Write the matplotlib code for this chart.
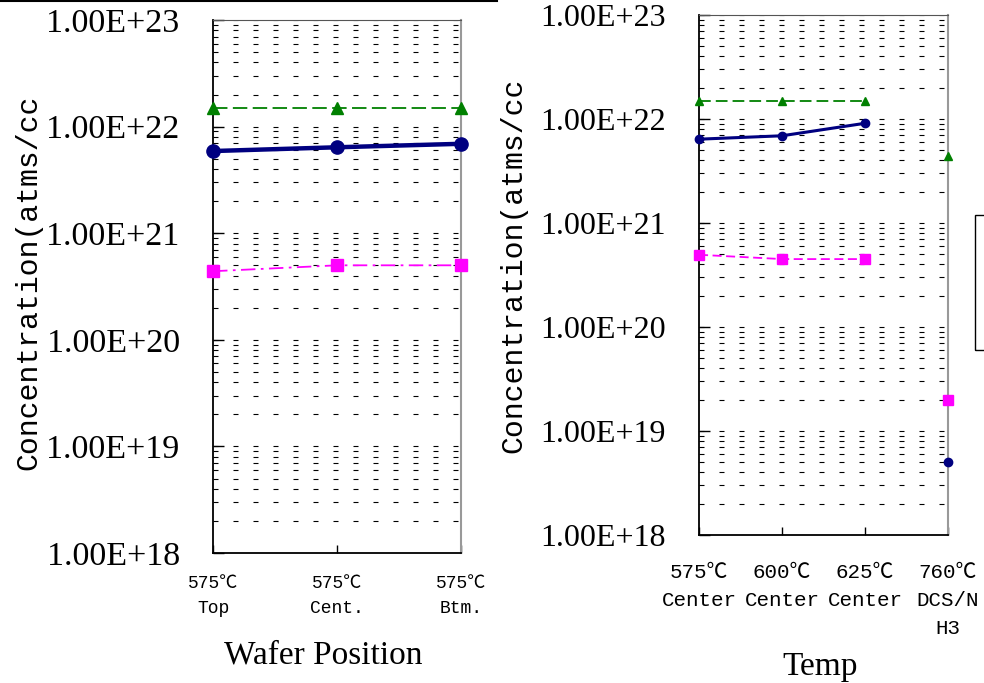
import numpy as np
import matplotlib
matplotlib.use("Agg")
import matplotlib.pyplot as plt
from matplotlib.lines import Line2D
from matplotlib.patches import Rectangle
from matplotlib.ticker import FixedLocator, NullFormatter

# 웨이퍼 위치별 농도 (575℃)
pos_labels = ["575℃\nTop", "575℃\nCent.", "575℃\nBtm."]
pos_n = [1.5e22, 1.5e22, 1.5e22]
pos_si = [5.9e21, 6.4e21, 6.9e21]
pos_h = [4.4e20, 5.0e20, 5.0e20]

# 온도별 농도 (마지막은 DCS/NH3 조건, 선으로 잇지 않음)
temp_labels = ["575℃\nCenter", "600℃\nCenter", "625℃\nCenter", "760℃\nDCS/N\nH3"]
temp_n = [1.5e22, 1.5e22, 1.5e22, None]
temp_si = [6.4e21, 6.9e21, 9.1e21, None]
temp_h = [4.95e20, 4.5e20, 4.5e20, None]
ref_n = 4.4e21
ref_si = 5.0e18
ref_h = 2.0e19

NAVY = "#000080"
GREEN = "#008000"
MAGENTA = "#FF00FF"

SERIF = ["Liberation Serif", "Noto Sans CJK JP"]
MONO = ["Liberation Mono", "Noto Sans CJK JP"]


def as_array(values):
    return np.array([np.nan if v is None else v for v in values], dtype=float)


def setup_axes(ax, labels, tick_size):
    """로그 축, 점선 격자, 안쪽 눈금 설정"""
    ax.set_yscale("log")
    ax.set_ylim(1e18, 1e23)
    ax.set_xlim(0, len(labels) - 1)
    decades = [1e18, 1e19, 1e20, 1e21, 1e22, 1e23]
    ax.yaxis.set_major_locator(FixedLocator(decades))
    ax.set_yticklabels(["1.00E+%d" % int(np.log10(d)) for d in decades],
                       family=SERIF, fontsize=tick_size)
    ax.yaxis.set_minor_formatter(NullFormatter())
    ax.tick_params(axis="y", which="major", direction="in", length=8,
                   width=1, pad=24)
    ax.tick_params(axis="y", which="minor", length=0)
    ax.set_xticks(range(len(labels)))
    ax.tick_params(axis="x", direction="in", length=6, width=1)
    ax.grid(which="both", axis="y", color="black", linewidth=0.8,
            linestyle=(0, (4.5, 13.5)))
    for side in ("left", "bottom"):
        ax.spines[side].set_color("black")
        ax.spines[side].set_linewidth(1.3)
    ax.spines["top"].set_color("#555555")
    ax.spines["right"].set_color("#999999")
    ax.spines["right"].set_linewidth(1.5)


fig = plt.figure(figsize=(9.84, 6.83), dpi=100)

# 왼쪽: Wafer Position
ax1 = fig.add_axes([0.2165, 0.1903, 0.252, 0.7804])
setup_axes(ax1, pos_labels, 24.5)
x1 = np.arange(len(pos_labels))
ax1.plot(x1, pos_n, color=GREEN, linestyle=(0, (8, 3)), linewidth=1.3,
         marker="^", markersize=9, clip_on=False, zorder=3)
ax1.plot(x1, pos_si, color=NAVY, linewidth=3.2, marker="o", markersize=9.5,
         clip_on=False, zorder=3)
ax1.plot(x1, pos_h, color=MAGENTA, linestyle=(0, (8, 3, 1.5, 3)),
         linewidth=1.3, marker="s", markersize=9, clip_on=False, zorder=3)
ax1.set_xticklabels(pos_labels, family=MONO, fontsize=13, linespacing=1.6)
ax1.tick_params(axis="x", pad=16)

# 오른쪽: Temp
ax2 = fig.add_axes([0.7104, 0.2167, 0.2530, 0.7613])
setup_axes(ax2, temp_labels, 23)
x2 = np.arange(len(temp_labels))
ax2.plot(x2, as_array(temp_n), color=GREEN, linestyle=(0, (6.5, 2.8)),
         linewidth=1.3, marker="^", markersize=6, clip_on=False, zorder=3)
ax2.plot(x2, as_array(temp_si), color=NAVY, linewidth=2.2, marker="o",
         markersize=6, clip_on=False, zorder=3)
ax2.plot(x2, as_array(temp_h), color=MAGENTA, linestyle=(0, (5, 2.5)),
         linewidth=1.3, marker="s", markersize=6.5, clip_on=False, zorder=3)
ax2.plot([x2[-1]], [ref_n], color=GREEN, marker="^", markersize=6,
         linestyle="none", clip_on=False, zorder=3)
ax2.plot([x2[-1]], [ref_si], color=NAVY, marker="o", markersize=6,
         linestyle="none", clip_on=False, zorder=3)
ax2.plot([x2[-1]], [ref_h], color=MAGENTA, marker="s", markersize=6.5,
         linestyle="none", clip_on=False, zorder=3)
ax2.set_xticklabels(temp_labels, family=MONO, fontsize=15, linespacing=1.6)
ax2.tick_params(axis="x", pad=20)

# 축 제목
fig.text(28 / 984, 1 - 470 / 683, "Concentration(atms/cc", rotation=90,
         ha="center", va="bottom", family=MONO, fontsize=21.5)
fig.text(513 / 984, 1 - 453 / 683, "Concentration(atms/cc", rotation=90,
         ha="center", va="bottom", family=MONO, fontsize=21.5)
fig.text(323 / 984, 1 - 655 / 683, "Wafer Position", ha="center",
         va="center", family=SERIF, fontsize=24)
fig.text(820 / 984, 1 - 667 / 683, "Temp", ha="center", va="center",
         family=SERIF, fontsize=24)

# 위쪽 경계선과 오른쪽 범례 상자 테두리
fig.add_artist(Line2D([0, 497 / 984], [0.998, 0.998], color="black",
                      linewidth=1.5))
fig.add_artist(Rectangle((975 / 984, 1 - 350 / 683), 0.05, 135 / 683,
                         transform=fig.transFigure, fill=False,
                         edgecolor="black", linewidth=1))

fig.savefig("out.png", dpi=100)
